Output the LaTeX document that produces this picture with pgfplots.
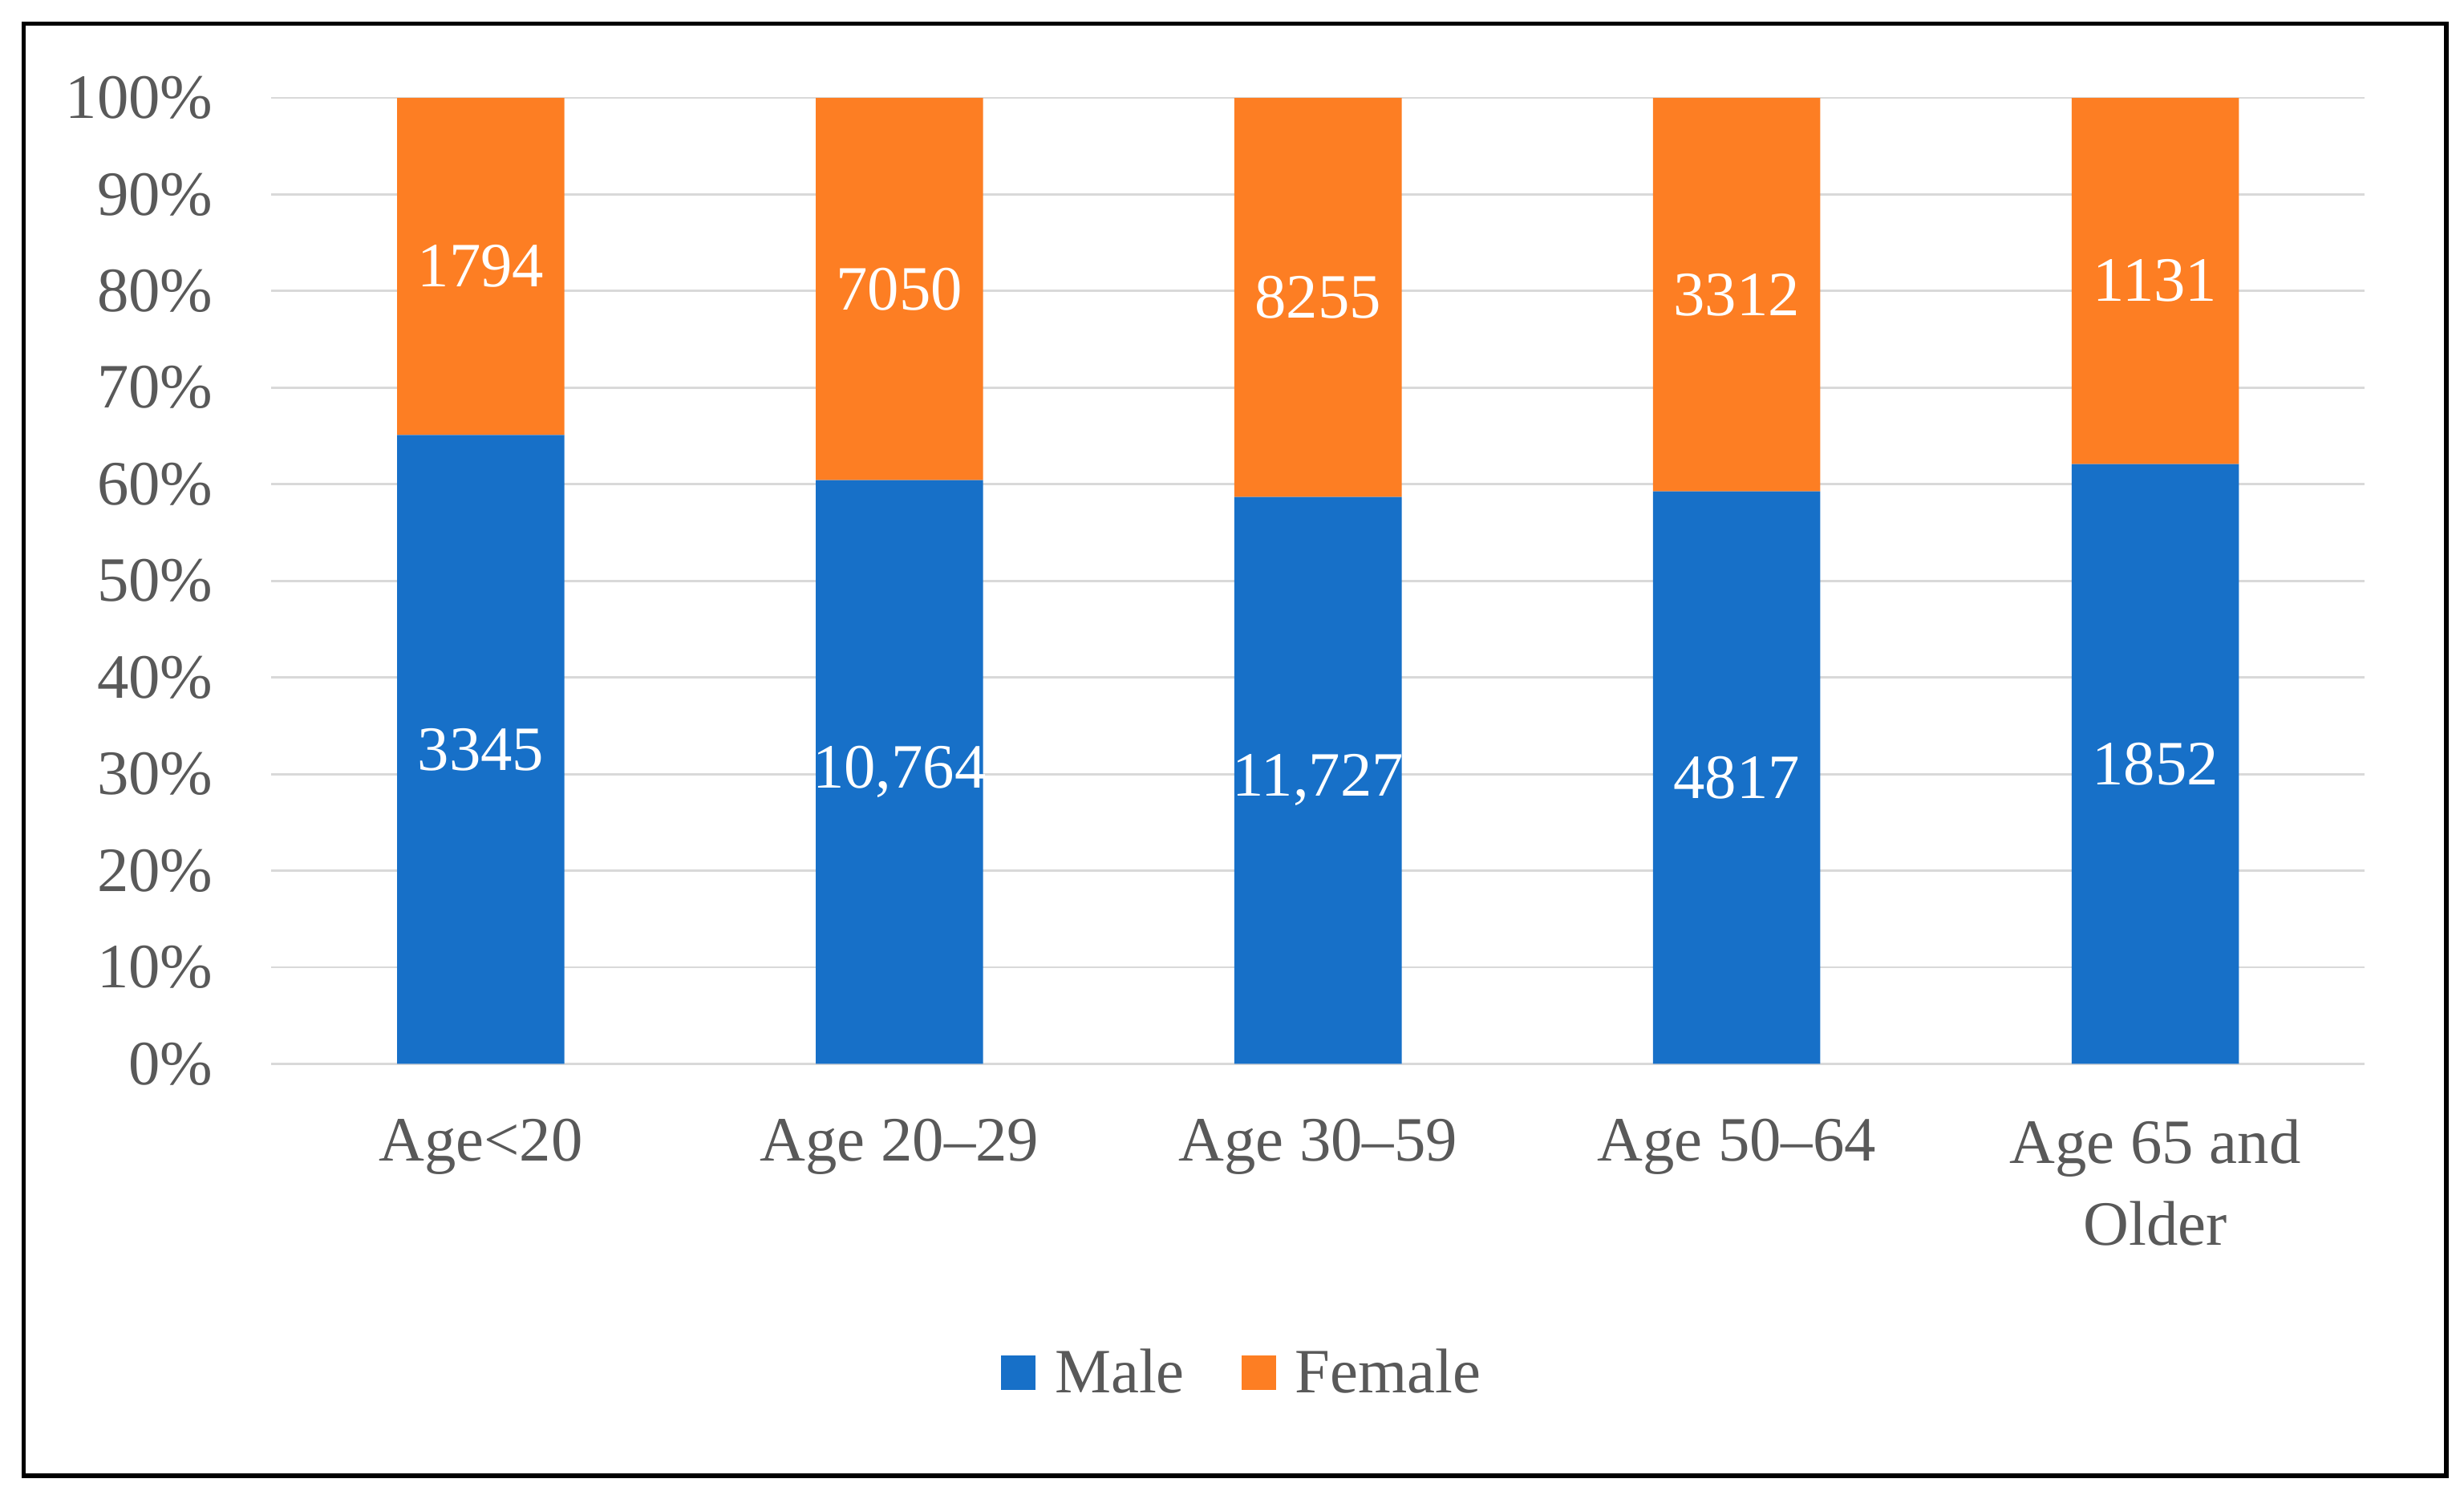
\documentclass[border=0pt]{standalone}
\usepackage{fontspec}
\setmainfont{Liberation Serif}
\usepackage{pgfplots}
\usepackage{pgfplotstable}
\pgfplotsset{compat=1.18}
\definecolor{mblue}{HTML}{1770C8}
\definecolor{forange}{HTML}{FD7E23}
\definecolor{txt}{HTML}{595959}
\definecolor{gridc}{HTML}{D9D9D9}
\pgfplotstableread{
x pct lab
0 65.09 3345
1 60.42 10,764
2 58.69 11,727
3 59.26 4817
4 62.09 1852
}\male
\pgfplotstableread{
x pct lab
0 34.91 1794
1 39.58 7050
2 41.31 8255
3 40.74 3312
4 37.91 1131
}\female
\begin{document}
\begin{tikzpicture}[font=\fontsize{20}{26}\selectfont]
\begin{axis}[
  scale only axis, width=663pt, height=306pt,
  xmin=-0.5, xmax=4.5, ymin=0, ymax=100,
  ybar stacked, bar width=53pt,
  axis line style={draw=none},
  major tick length=0pt,
  ytick={0,10,...,100},
  /pgf/number format/assume math mode=true,
  yticklabel={\pgfmathprintnumber{\tick}\%},
  yticklabel style={text=txt, xshift=-15pt},
  xtick={0,1,2,3,4},
  xticklabels={Age<20, Age 20--29, Age 30--59, Age 50--64, {Age 65 and\\Older}},
  xticklabel style={text=txt, align=center, yshift=-14pt},
  ymajorgrids, major grid style={draw=gridc, line width=0.75pt},
  legend style={at={(0.4647,-0.32)}, anchor=center, draw=none, fill=none,
    legend columns=-1, nodes={text=txt, inner sep=2pt},
    /tikz/every odd column/.append style={column sep=4pt},
    /tikz/every even column/.append style={column sep=16pt}},
  point meta=explicit symbolic,
  nodes near coords={\pgfplotspointmeta},
  every node near coord/.append style={anchor=center, text=white},
]
\addplot[fill=mblue, draw=none,
  legend image code/.code={\fill[mblue] (0pt,-5.5pt) rectangle (11pt,5.5pt);}]
  table[x=x, y=pct, meta=lab]{\male};
\addlegendentry{Male}
\addplot[fill=forange, draw=none,
  legend image code/.code={\fill[forange] (0pt,-5.5pt) rectangle (11pt,5.5pt);}]
  table[x=x, y=pct, meta=lab]{\female};
\addlegendentry{Female}
\end{axis}
\draw[line width=1.5pt, black] ([shift={(-78.5pt,-130.5pt)}]current axis.south west) rectangle ([shift={(689pt,329.5pt)}]current axis.south west);
\pgfresetboundingbox
\path ([shift={(-86pt,-136.5pt)}]current axis.south west) rectangle ([shift={(694.5pt,337pt)}]current axis.south west);
\end{tikzpicture}
\end{document}
